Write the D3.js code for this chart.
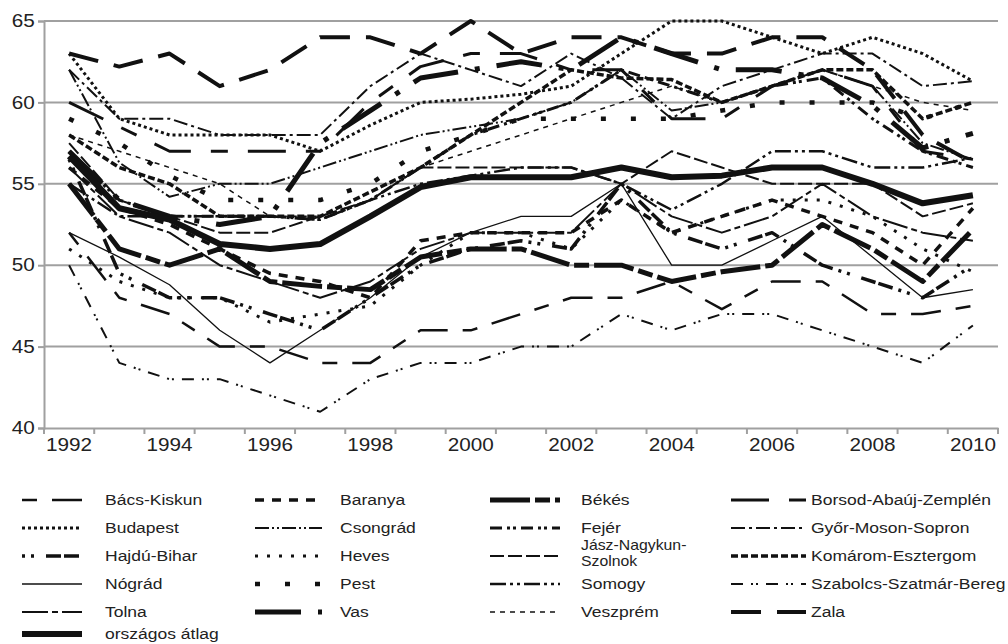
<!DOCTYPE html>
<html>
<head>
<meta charset="utf-8">
<script src="https://cdn.jsdelivr.net/npm/d3@7"></script>
<style>
  body { margin: 0; background: #fff; }
  text { font-family: "Liberation Sans", Arial, sans-serif; fill: #222; }
</style>
</head>
<body>
<div class="drawBoard"></div>
<script>
// years on the x axis, labels every other year
const years = d3.range(1992, 2011);
const yearLabels = [1992, 1994, 1996, 1998, 2000, 2002, 2004, 2006, 2008, 2010];
const yTicks = [40, 45, 50, 55, 60, 65];

// series values 1992..2010
const bacsKiskun = [52, 48, 47, 45, 45, 44, 44, 46, 46, 47, 48, 48, 49, 47.3, 49, 49, 47, 47, 47.5];
const baranya = [56, 53.5, 52.5, 51, 49.5, 49, 48, 51.5, 52, 52, 52, 54, 52, 53, 54, 53, 52, 50, 53.5];
const bekes = [55, 51, 50, 51, 49, 48.7, 48.5, 50.5, 51, 51, 50, 50, 49, 49.6, 50, 52.5, 51, 49, 52.2];
const borsod = [60, 58.5, 57, 57, 57, 57, 60, 62.2, 63, 63, 62, 62, 59, 59, 61, 62, 61, 57, 56.5];
const budapest = [63, 59, 58, 58, 58, 57, 58.6, 60, 60.2, 60.5, 61, 63, 65, 65, 64, 63, 64, 63, 61.3];
const csongrad = [62, 56.3, 54.2, 55, 55, 56, 57, 58, 58.5, 59, 60, 62, 59.5, 60, 61, 62, 61, 57.5, 56.5];
const fejer = [57, 54, 53, 53, 53, 52.8, 54, 56, 58, 59, 60, 62, 61, 60, 61, 61.5, 59, 57, 56];
const gyor = [62, 59, 59, 58, 58, 58, 61, 63, 62, 61, 63, 61.5, 59, 61, 62, 63, 63, 61, 61.3];
const hajdu = [56.5, 49.5, 48, 48, 47, 46, 48, 50, 51, 51.5, 51, 55, 52, 51, 52, 50, 49, 48, 50];
const heves = [51, 49, 48, 48, 46.5, 47, 47.5, 50, 52, 52, 51, 54, 52, 53, 54, 54, 53, 51, 49.6];
const jasz = [57.5, 54, 53, 52, 52, 53, 54, 56, 56, 56, 56, 55, 57, 56, 55, 55, 55, 53, 53.8];
const komarom = [58, 56, 55, 53, 53, 53, 54.5, 56, 58, 60, 62, 61.5, 61.4, 60, 61, 62, 62, 59, 60];
const nograd = [52, 50.5, 48.8, 46, 44, 46, 48, 50.5, 52, 53, 53, 55, 50, 50, 51.5, 53, 50.5, 48, 48.5];
const pest = [59, 57.5, 55.5, 54, 54, 54, 55, 57, 58, 59, 59, 59, 59, 59.5, 60, 60, 60, 59, 60];
const somogy = [55, 53, 53, 53, 53, 52.8, 54, 55, 55.5, 56, 56, 55, 53.4, 55, 57, 57, 56, 56, 56.6];
const szabolcs = [50, 44, 43, 43, 42, 41, 43, 44, 44, 45, 45, 47, 46, 47, 47, 46, 45, 44, 46.3];
const tolna = [56, 53, 52, 50, 49, 48, 49, 51, 52, 52, 52, 55, 53, 52, 53, 55, 53, 52, 51.5];
const vas = [57, 54, 53, 52.5, 53, 57.5, 59.5, 61.5, 62, 62.5, 62, 64, 63, 62, 62, 61.5, 59.8, 57.2, 58.1];
const veszprem = [58, 57, 56, 55, 53, 53, 54, 56, 57, 58, 59, 60, 61, 60, 61, 62, 61, 60, 59.5];
const zala = [63, 62.2, 63, 61, 62, 64, 64, 63, 65, 63, 64, 64, 63, 63, 64, 64, 62, 58, 56.3];
const atlag = [56.7, 53.5, 52.8, 51.3, 51, 51.3, 53, 54.8, 55.4, 55.4, 55.4, 56, 55.4, 55.5, 56, 56, 55, 53.8, 54.3];

const seriesNames = ['Bács-Kiskun', 'Baranya', 'Békés', 'Borsod-Abaúj-Zemplén',
  'Budapest', 'Csongrád', 'Fejér', 'Győr-Moson-Sopron',
  'Hajdú-Bihar', 'Heves', 'Jász-Nagykun-Szolnok', 'Komárom-Esztergom',
  'Nógrád', 'Pest', 'Somogy', 'Szabolcs-Szatmár-Bereg',
  'Tolna', 'Vas', 'Veszprém', 'Zala', 'országos átlag'];
const seriesValues = [bacsKiskun, baranya, bekes, borsod, budapest, csongrad, fejer, gyor,
  hajdu, heves, jasz, komarom, nograd, pest, somogy, szabolcs, tolna, vas, veszprem, zala, atlag];

// line look per series: width and dash
const lineStyles = [
  {w: 2.5, dash: '15,15,30,15'},
  {w: 3.5, dash: '9,8'},
  {w: 5, dash: '40,5,15,5'},
  {w: 3, dash: '38,20,17,20'},
  {w: 3, dash: '3,3'},
  {w: 2, dash: '14,3,2,3,2,3'},
  {w: 3, dash: '12,5,3,3,3,5'},
  {w: 2, dash: '14,4,3,4'},
  {w: 3.5, dash: '3,6,3,12,15,3,15,6'},
  {w: 3, dash: '3,9'},
  {w: 2, dash: '14,4'},
  {w: 3.5, dash: '7,3'},
  {w: 1.3, dash: null},
  {w: 4.5, dash: '5,25'},
  {w: 2.5, dash: '16,4,3,4,3,4'},
  {w: 2, dash: '12,8,2,3,2,8'},
  {w: 2, dash: '26,4,6,4'},
  {w: 5, dash: '46,17,5,17'},
  {w: 1.5, dash: '5,5'},
  {w: 4, dash: '30,16'},
  {w: 6, dash: null}
];

const svg = d3.select('.drawBoard').append('svg')
  .attr('width', 1008)
  .attr('height', 644);

const x = d3.scaleBand().domain(years).range([44, 998]);
const y = d3.scaleLinear().domain([40, 65]).range([428, 21]);
const cx = d => x(d) + x.bandwidth() / 2;

// gridlines
svg.append('g').selectAll('line')
  .data(yTicks.slice(1))
  .join('line')
  .attr('x1', 44).attr('x2', 998)
  .attr('y1', d => y(d)).attr('y2', d => y(d))
  .attr('stroke', '#a0a0a0').attr('stroke-width', 2);

// y axis
const yAxis = svg.append('g')
  .attr('transform', 'translate(44,0)')
  .call(d3.axisLeft(y).tickValues(yTicks).tickSize(6).tickPadding(2));
yAxis.select('.domain').attr('stroke', '#a0a0a0').attr('stroke-width', 2);
yAxis.selectAll('.tick line').attr('stroke', '#a0a0a0').attr('stroke-width', 2);
yAxis.selectAll('text').attr('font-size', 18).attr('fill', '#222')
  .attr('transform', 'scale(1.15,1)');

// x axis
const xAxis = svg.append('g')
  .attr('transform', 'translate(0,428)')
  .call(d3.axisBottom(x).tickValues(yearLabels).tickSize(0).tickPadding(10));
xAxis.select('.domain').attr('stroke', '#a0a0a0').attr('stroke-width', 2);
xAxis.selectAll('text').attr('font-size', 18).attr('fill', '#222')
  .attr('transform', 'scale(1.15,1)');
xAxis.selectAll('.boundary')
  .data(years.concat([2011]))
  .join('line')
  .attr('x1', d => d === 2011 ? 998 : x(d))
  .attr('x2', d => d === 2011 ? 998 : x(d))
  .attr('y1', 0).attr('y2', 6)
  .attr('stroke', '#a0a0a0').attr('stroke-width', 2);

// the lines
const line = d3.line()
  .x((d, i) => cx(years[i]))
  .y(d => y(d));

seriesValues.forEach((vals, i) => {
  svg.append('path')
    .attr('d', line(vals))
    .attr('fill', 'none')
    .attr('stroke', '#111')
    .attr('stroke-width', lineStyles[i].w)
    .attr('stroke-dasharray', lineStyles[i].dash)
    .attr('stroke-linejoin', 'round');
});

// legend, 4 columns
const sampleX = [22, 255, 490, 731];
const sampleW = [60, 67, 70, 75];
const textX = [105, 340, 581, 811];
const rowY = [500, 528, 556, 584, 612, 634];

function legendText(tx, ty, str, size) {
  svg.append('text')
    .attr('transform', `translate(${tx},${ty}) scale(1.13,1)`)
    .attr('font-size', size || 15.5)
    .text(str);
}

seriesNames.forEach((name, i) => {
  const col = i % 4, row = Math.floor(i / 4);
  const ly = rowY[row];
  svg.append('line')
    .attr('x1', sampleX[col]).attr('x2', sampleX[col] + (i === 20 ? 60 : sampleW[col]))
    .attr('y1', ly).attr('y2', ly)
    .attr('stroke', '#111')
    .attr('stroke-width', lineStyles[i].w)
    .attr('stroke-dasharray', lineStyles[i].dash);
  if (name === 'Jász-Nagykun-Szolnok') {
    legendText(textX[col], ly - 6, 'Jász-Nagykun-', 14);
    legendText(textX[col], ly + 10, 'Szolnok', 14);
  } else {
    legendText(textX[col], ly + 5, name);
  }
});
</script>
</body>
</html>
